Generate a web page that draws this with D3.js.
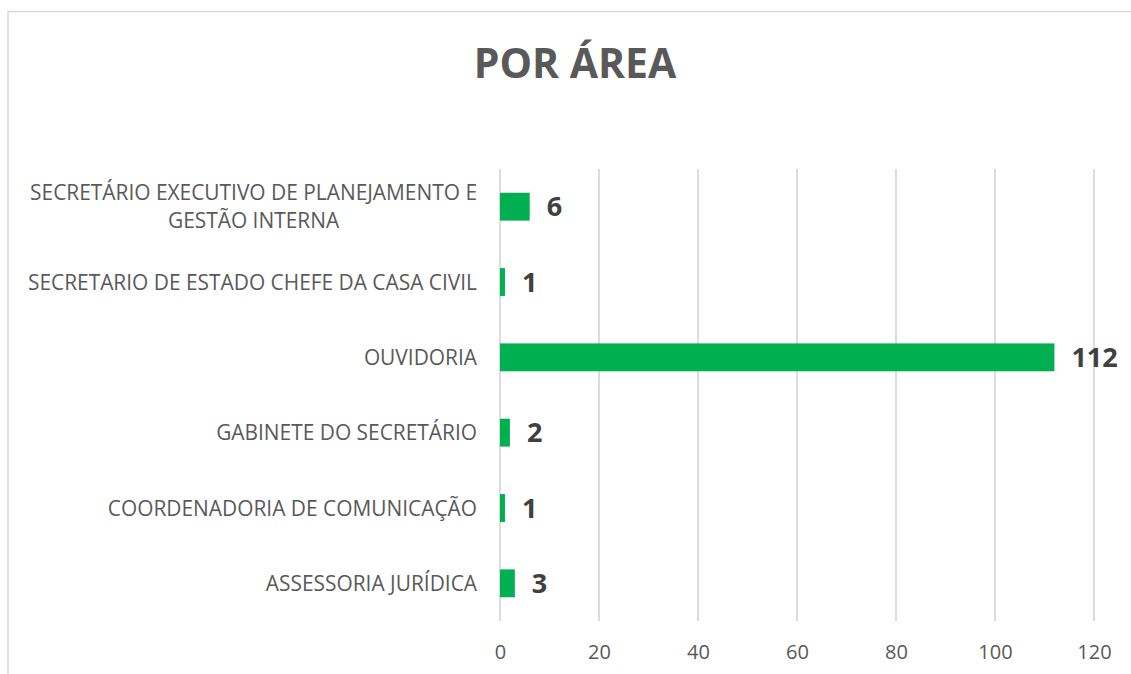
<!DOCTYPE html>
<html>
<head>
<meta charset="utf-8">
<script src="https://cdn.jsdelivr.net/npm/d3@7"></script>
<style>
  body { margin: 0; background: #fff; }
  svg { display: block; }
</style>
</head>
<body>
<div id="chart"></div>
<script>
// data, bottom to top as drawn
const categories = [
  "ASSESSORIA JURÍDICA",
  "COORDENADORIA DE COMUNICAÇÃO",
  "GABINETE DO SECRETÁRIO",
  "OUVIDORIA",
  "SECRETARIO DE ESTADO CHEFE DA CASA CIVIL",
  "SECRETÁRIO EXECUTIVO DE PLANEJAMENTO E|GESTÃO INTERNA"
];
const values = [3, 1, 2, 112, 1, 6];
const xTicks = [0, 20, 40, 60, 80, 100, 120];

const width = 1131, height = 674;
const margin = {top: 169, right: 37, bottom: 53, left: 500};
const innerW = width - margin.left - margin.right;
const innerH = height - margin.top - margin.bottom;
const catSize = 20.9;

const svg = d3.select("#chart").append("svg")
    .attr("width", width)
    .attr("height", height);

// chart frame
svg.append("rect")
    .attr("x", 8).attr("y", 11.5)
    .attr("width", 1300).attr("height", 800)
    .attr("fill", "none")
    .attr("stroke", "#d9d9d9")
    .attr("stroke-width", 1.5);

svg.append("text")
    .attr("x", 575).attr("y", 78)
    .attr("text-anchor", "middle")
    .style("font-family", "'Open Sans', sans-serif")
    .style("font-weight", "bold")
    .style("font-size", "41px")
    .style("fill", "#595959")
    .text("POR ÁREA");

const g = svg.append("g")
    .attr("transform", `translate(${margin.left},${margin.top})`);

const x = d3.scaleLinear().domain([0, 120]).range([0, innerW]);
const y = d3.scaleBand()
    .domain(d3.range(categories.length).reverse())
    .range([0, innerH])
    .paddingInner(0.63)
    .paddingOuter(0.315);

// gridlines
g.selectAll(".grid")
  .data(xTicks)
  .join("line")
    .attr("x1", d => x(d)).attr("x2", d => x(d))
    .attr("y1", 0).attr("y2", innerH)
    .attr("stroke", "#d9d9d9")
    .attr("stroke-width", 1.8);

// x axis labels
const xAxis = g.append("g")
    .attr("transform", `translate(0,${innerH})`)
    .call(d3.axisBottom(x).tickValues(xTicks).tickSize(0).tickPadding(24));
xAxis.select(".domain").remove();
xAxis.selectAll("text")
    .style("font-family", "'Open Sans', sans-serif")
    .style("font-size", "20px")
    .style("fill", "#595959");

// bars
g.selectAll(".bar")
  .data(values)
  .join("rect")
    .attr("x", x(0))
    .attr("y", (d, i) => y(i))
    .attr("width", d => x(d) - x(0))
    .attr("height", y.bandwidth())
    .attr("fill", "#00b050");

// value labels
g.selectAll(".val")
  .data(values)
  .join("text")
    .attr("x", d => x(d) + 17)
    .attr("y", (d, i) => y(i) + y.bandwidth() / 2)
    .attr("dy", "0.36em")
    .style("font-family", "'Open Sans', sans-serif")
    .style("font-weight", "bold")
    .style("font-size", "27px")
    .style("fill", "#404040")
    .text(d => d);

// category labels (multi-line centred, right edge at axis)
const lab = g.selectAll(".cat")
  .data(categories)
  .join("text")
    .attr("y", (d, i) => y(i) + y.bandwidth() / 2)
    .style("font-family", "'Open Sans', sans-serif")
    .style("font-size", catSize + "px")
    .style("fill", "#595959");

lab.each(function(d) {
  const t = d3.select(this);
  const lines = d.split("|");
  const lh = 28;
  lines.forEach((ln, k) => {
    t.append("tspan")
      .attr("dy", k === 0 ? (0.36 * catSize - (lines.length - 1) * lh / 2) : lh)
      .text(ln);
  });
  // centre the lines, right-align the block at x = -23
  const spans = t.selectAll("tspan").nodes();
  const maxW = d3.max(spans, s => s.getComputedTextLength());
  spans.forEach(s => {
    d3.select(s)
      .attr("x", -23 - maxW / 2)
      .attr("text-anchor", "middle");
  });
});
</script>
</body>
</html>
